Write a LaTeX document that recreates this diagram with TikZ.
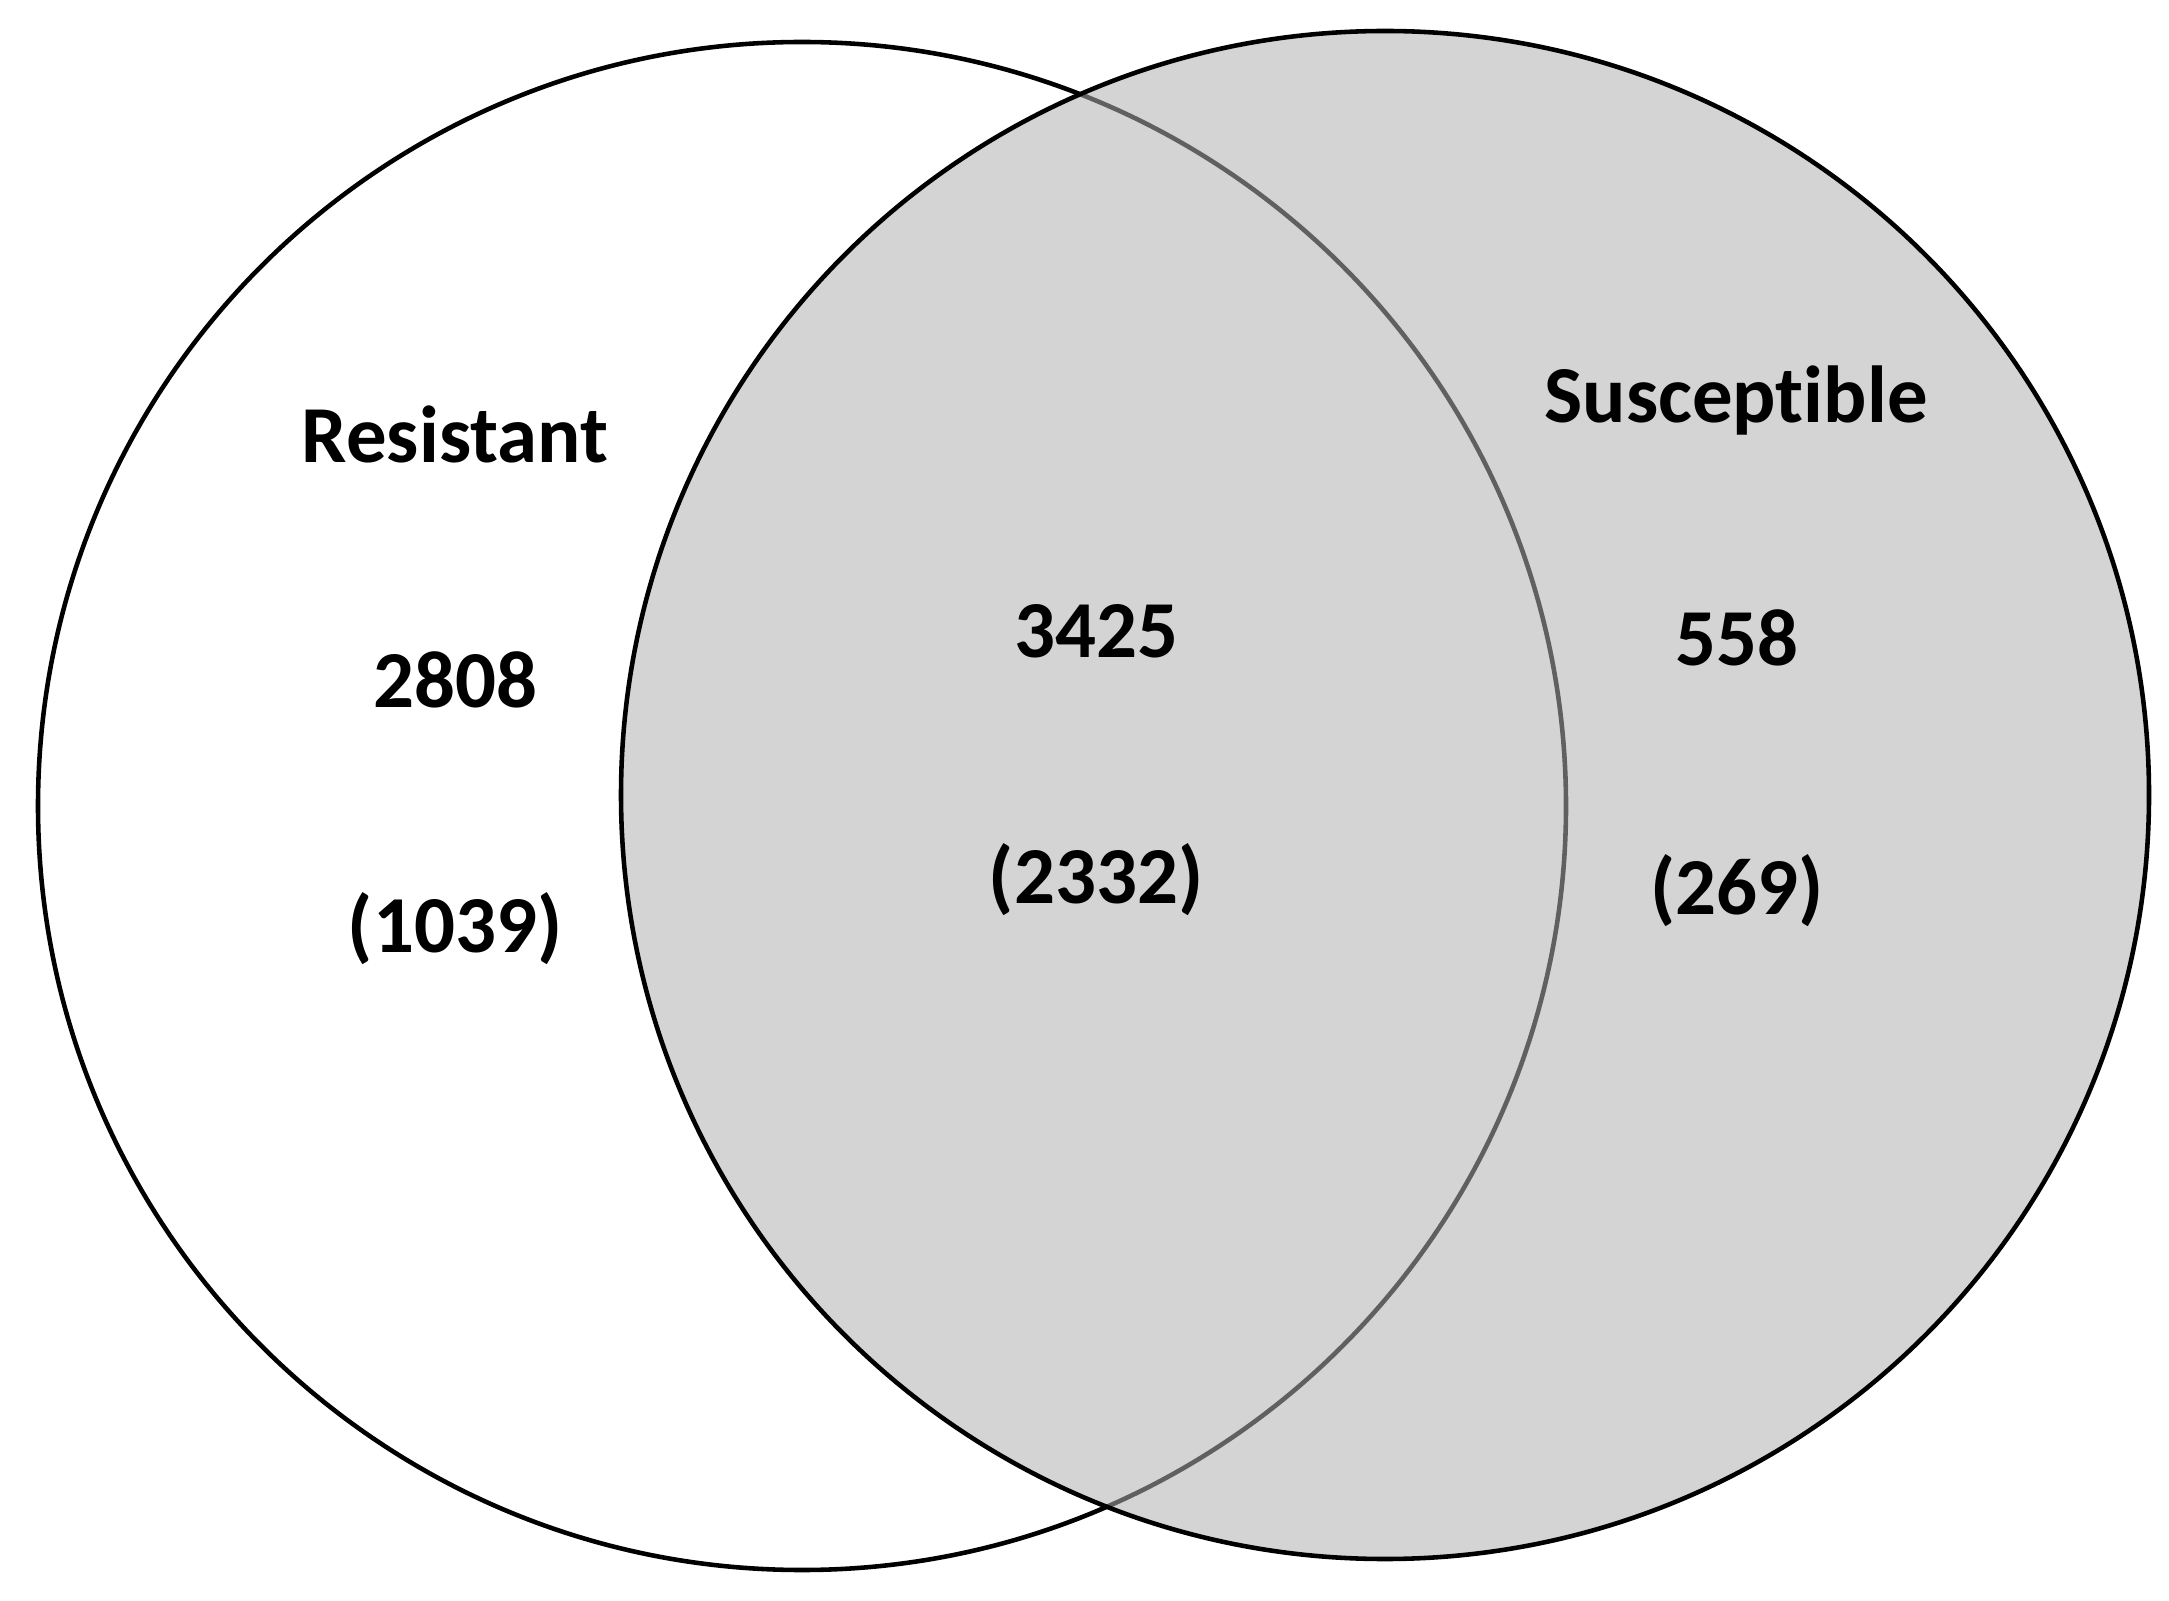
\documentclass[tikz,border=0pt]{standalone}
\usepackage{fontspec}
\setmainfont{Carlito}[Ligatures=CommonOff]
\tikzset{
  venn/.style={line width=1.3pt},
  setlbl/.style={anchor=base,inner sep=0pt,font=\fontsize{23}{28}\selectfont\bfseries}
}
\begin{document}
\begin{tikzpicture}[x=0.1mm,y=0.1mm]
\useasboundingbox (0,0) rectangle (2169,1600);
\coordinate (R) at (802,794);
\coordinate (S) at (1385,805);
\draw [venn] (R) circle (764);
\fill [fill=black!31,fill opacity=0.55] (S) circle (764);
\draw [venn] (S) circle (764);
% labels
\node[setlbl] (rname) at (455,1137) {Resistant};
\node[setlbl] (rnum)  at (455,892)  {2808};
\node[setlbl] (rsub)  at (455,647)  {(1039)};
\node[setlbl] (bnum)  at (1096,942) {3425};
\node[setlbl] (bsub)  at (1096,697) {(2332)};
\node[setlbl] (sname) at (1736,1177) {Suscept\kern0pt ible};
\node[setlbl] (snum)  at (1737,934) {558};
\node[setlbl] (ssub)  at (1737,686) {(269)};
\end{tikzpicture}
\end{document}
